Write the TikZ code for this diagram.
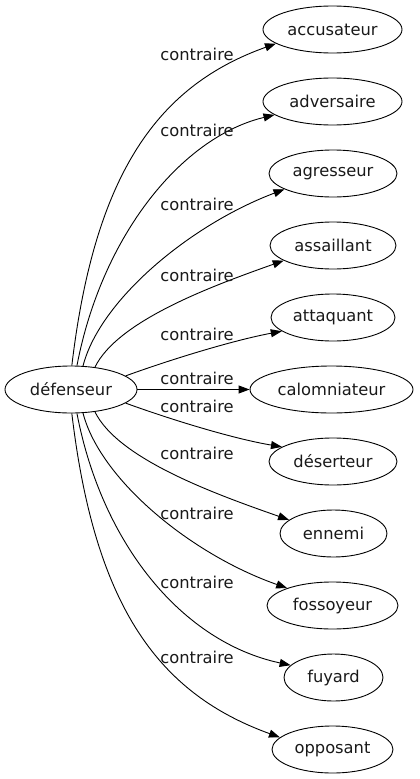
\documentclass[tikz,border=0pt]{standalone}
\usepackage{fontspec}
\setmainfont{DejaVu Sans}
\usetikzlibrary{shapes.geometric,arrows.meta}
\begin{document}
\begin{tikzpicture}[x=1pt,y=-1pt,
  every node/.style={font=\fontsize{16.3}{19}\selectfont, text=black!90},
  ell/.style={draw, ellipse, inner sep=0pt, minimum height=47pt, line width=0.9pt},
  lbl/.style={inner sep=0pt},
  edge/.style={line width=0.9pt, -{Triangle[length=11pt,width=8pt]}}]
\useasboundingbox (0,0) rectangle (420,779);
% nodes
\node[ell, minimum width=132pt] (d) at (71,389.5) {défenseur};
\node[ell, minimum width=139pt] (acc) at (332.5,29.5) {accusateur};
\node[ell, minimum width=139pt] (adv) at (332.5,101.5) {adversaire};
\node[ell, minimum width=128pt] (agr) at (333,173.5) {agresseur};
\node[ell, minimum width=126pt] (ass) at (333,245.5) {assaillant};
\node[ell, minimum width=124pt] (att) at (333,317.5) {attaquant};
\node[ell, minimum width=163pt] (cal) at (331.5,389.5) {calomniateur};
\node[ell, minimum width=128pt] (des) at (333,461.5) {déserteur};
\node[ell, minimum width=107pt] (enn) at (333.5,533.5) {ennemi};
\node[ell, minimum width=131pt] (fos) at (332.5,605.5) {fossoyeur};
\node[ell, minimum width=99pt] (fuy) at (333.5,677.5) {fuyard};
\node[ell, minimum width=121pt] (opp) at (332.5,749.5) {opposant};
% edges
\draw[edge] (d.88) .. controls (95,170) and (160,85) .. (acc.194);
\draw[edge] (d.76) .. controls (102,235) and (182,137) .. (adv.193);
\draw[edge] (d.63) .. controls (100,300) and (190,225) .. (agr.198);
\draw[edge] (d.43) .. controls (118,320) and (215,285) .. (ass.197);
\draw[edge] (d.14) .. controls (175,358) and (235,340) .. (att.195);
\draw[edge] (d.east) -- (cal.west);
\draw[edge] (d.-14) .. controls (175,421) and (235,439) .. (des.164);
\draw[edge] (d.-43) .. controls (118,459) and (215,494) .. (enn.163);
\draw[edge] (d.-63) .. controls (100,479) and (190,554) .. (fos.159);
\draw[edge] (d.-76) .. controls (102,544) and (182,642) .. (fuy.164);
\draw[edge] (d.-88) .. controls (95,609) and (160,694) .. (opp.167);
% labels
\node[lbl] (l1) at (197,54) {contraire};
\node[lbl] (l2) at (197,130) {contraire};
\node[lbl] (l3) at (197,204) {contraire};
\node[lbl] (l4) at (197,275) {contraire};
\node[lbl] (l5) at (197,334) {contraire};
\node[lbl] (l6) at (197,378) {contraire};
\node[lbl] (l7) at (197,406) {contraire};
\node[lbl] (l8) at (197,453) {contraire};
\node[lbl] (l9) at (197,513) {contraire};
\node[lbl] (l10) at (197,582) {contraire};
\node[lbl] (l11) at (197,657) {contraire};
\end{tikzpicture}
\end{document}
